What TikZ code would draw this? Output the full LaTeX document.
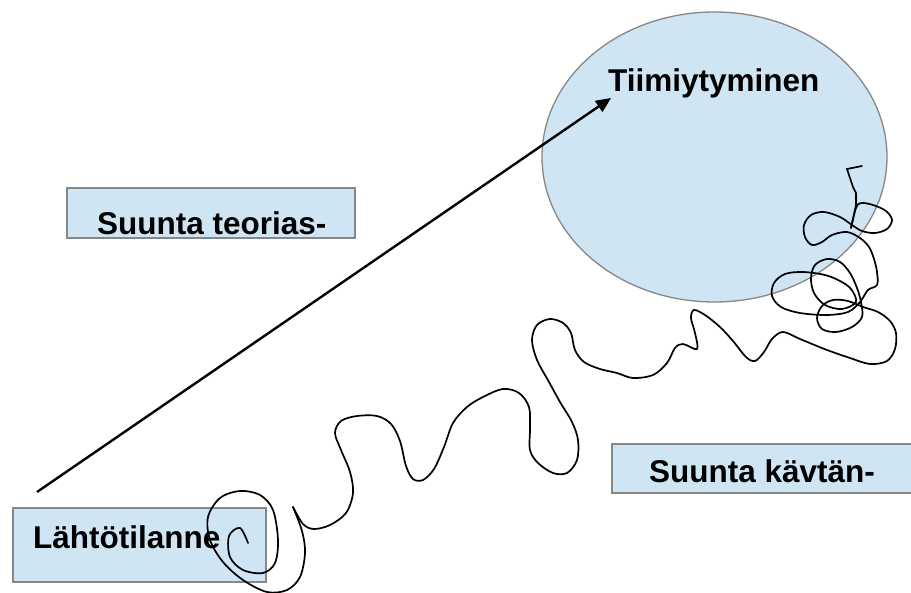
\documentclass[tikz,border=0pt]{standalone}
\usepackage{fontspec}
\setmainfont{Liberation Sans}
\usetikzlibrary{arrows.meta,shapes.geometric}
\definecolor{paleblue}{RGB}{207,229,243}
\definecolor{edgegray}{RGB}{135,135,135}
\tikzset{
  bluebox/.style={draw=edgegray, line width=1.8pt, fill=paleblue, rectangle, inner sep=0pt},
  lbl/.style={anchor=base west, inner sep=0pt, font=\fontsize{31.5}{36}\selectfont\bfseries},
  scribble/.style={line width=1.7pt, black, line join=round, line cap=round}
}
\begin{document}
\begin{tikzpicture}[x=1pt,y=-1pt]
\clip (0,0) rectangle (911,593);
\fill[white] (0,0) rectangle (911,593);
% ellipse
\node[ellipse, draw=edgegray, line width=1.3pt, fill=paleblue, inner sep=0pt, minimum width=345pt, minimum height=290pt] (goal) at (714.5,157) {};
\node[lbl] (tiimi) at (608,92) {Tiimiytyminen};
% boxes
\node[bluebox, minimum width=288pt, minimum height=50pt] (teoria) at (211,213) {};
\node[lbl] (teorialbl) at (97,235) {Suunta teorias-};
\node[bluebox, minimum width=320pt, minimum height=49pt] (kaytanto) at (772,468.5) {};
\node[lbl] (kaytantolbl) at (649,483) {Suunta kävtän-};
\node[bluebox, minimum width=253pt, minimum height=74pt] (lahto) at (139.5,545) {};
\node[lbl] (lahtolbl) at (33,549) {Lähtötilanne};
% arrow
\coordinate (arrowStart) at (37,492);
\coordinate (arrowEnd) at (611,98);
\draw[line width=2.4pt, -{Triangle[length=15pt,width=13pt]}] (arrowStart) -- (arrowEnd);
% squiggle part 1
\draw[scribble] plot[smooth, tension=0.55] coordinates {
(248,543) (240,528) (229,536) (230,557) (243,570) (263,573) (275,563) (278,540) (273,510) (260,495) (240,491) (220,498) (208,517) (210,540) (223,562) (243,580) (267,592) (287,590) (300,577) (305,553) (302,531) (293,507)};
% squiggle part 2
\draw[scribble] plot[smooth, tension=0.55] coordinates {
(293,507) (303,524) (314,529) (330,525) (346,513) (353,493) (350,472) (341,450) (335,433) (341,421) (357,416) (377,416) (391,424) (400,441) (406,466) (413,479) (423,480) (434,469) (444,447) (453,423) (467,407) (483,397) (503,389) (519,393) (529,407) (530,428) (530,450) (538,463) (553,473) (567,473) (577,460) (578,440) (572,422) (560,402) (549,382) (537,360) (532,340) (537,325) (550,319) (563,323) (571,333) (575,350) (584,362) (600,369) (617,373) (633,378) (653,375) (667,363) (675,348) (683,344) (697,349) (695,333) (691,318) (694,310) (705,315) (720,327) (733,341) (746,357) (755,361) (764,352) (772,339) (783,332) (800,339) (827,350) (850,358) (870,364) (887,361) (895,349) (896,333) (890,321) (878,312) (863,307) (848,301) (833,300) (822,306) (817,318) (822,329) (836,332) (852,327) (862,317) (861,302) (857,288) (850,273) (840,262) (827,259) (815,265) (811,278) (814,293) (825,305) (842,309) (856,302) (851,289) (840,281) (825,275) (803,272) (785,274) (774,283) (772,296) (781,307) (800,313) (827,315) (848,312) (860,302) (868,290) (877,285) (877,272) (874,259) (869,247) (860,238) (847,232) (832,235) (822,242) (812,245) (805,237) (804,225) (811,215) (824,212) (840,217) (852,225) (862,231) (875,233) (887,229) (892,220) (886,211) (873,205) (861,203) (856,208) (851,228)};
\draw[scribble, line join=miter] (851,228) -- (856,205) -- (856,193) -- (853,187) -- (847,169) -- (862,166);
\end{tikzpicture}
\end{document}
